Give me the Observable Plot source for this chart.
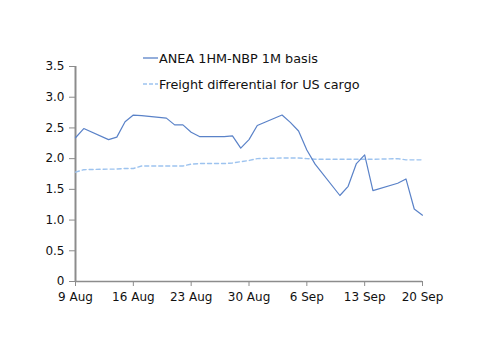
<!DOCTYPE html>
<html>
<head>
<meta charset="utf-8">
<script src="https://cdn.jsdelivr.net/npm/d3@7"></script>
<script src="https://cdn.jsdelivr.net/npm/@observablehq/plot@0.6"></script>
<style>
  html, body { margin: 0; padding: 0; background: #fff; }
  #wrap { position: relative; width: 500px; height: 354px; font-family: "DejaVu Sans", Verdana, sans-serif; }
  #legend { position: absolute; left: 143px; top: 45px; font-size: 12.8px; color: #111; }
  #legend .item { display: flex; align-items: center; height: 26px; }
  #legend svg { margin-right: 1px; }
</style>
</head>
<body>
<div id="wrap"><div id="legend"></div></div>
<script>
const dates = ["2012-08-09","2012-08-10","2012-08-13","2012-08-14","2012-08-15","2012-08-16","2012-08-17",
  "2012-08-20","2012-08-21","2012-08-22","2012-08-23","2012-08-24","2012-08-27","2012-08-28","2012-08-29",
  "2012-08-30","2012-08-31","2012-09-03","2012-09-04","2012-09-05","2012-09-06","2012-09-07","2012-09-10",
  "2012-09-11","2012-09-12","2012-09-13","2012-09-14","2012-09-17","2012-09-18","2012-09-19","2012-09-20"];
const basis = [2.34,2.49,2.31,2.35,2.60,2.71,2.70,
  2.66,2.55,2.55,2.43,2.36,2.36,2.37,2.17,
  2.31,2.54,2.71,2.59,2.45,2.14,1.91,1.40,
  1.55,1.92,2.06,1.48,1.60,1.67,1.18,1.08];
const freight = [1.78,1.82,1.83,1.83,1.84,1.84,1.88,
  1.88,1.88,1.88,1.91,1.92,1.92,1.93,1.95,
  1.97,2.00,2.01,2.01,2.01,2.00,1.99,1.99,
  1.99,1.99,1.99,1.99,2.00,1.98,1.98,1.98];
const seriesNames = ["ANEA 1HM-NBP 1M basis", "Freight differential for US cargo"];
const xTicks = ["2012-08-09","2012-08-16","2012-08-23","2012-08-30","2012-09-06","2012-09-13","2012-09-20"];
const yTicks = [0,0.5,1,1.5,2,2.5,3,3.5];

const colors = ["#5a82c8", "#9dc3ef"];
const parse = d3.utcParse("%Y-%m-%d");
const rows = dates.map((d, i) => ({date: parse(d), basis: basis[i], freight: freight[i]}));
const fmtDate = d3.utcFormat("%-d %b");
const axisColor = "#8c8c8c";

const chart = Plot.plot({
  width: 500,
  height: 354,
  marginLeft: 75,
  marginRight: 78,
  marginTop: 66,
  marginBottom: 73,
  style: {fontFamily: "DejaVu Sans, Verdana, sans-serif", fontSize: "12px", color: "#111", background: "#fff"},
  x: {type: "utc", domain: [parse(dates[0]), parse(dates[dates.length - 1])]},
  y: {domain: [0, 3.5]},
  marks: [
    Plot.axisX({ticks: xTicks.map(parse), tickFormat: fmtDate, tickSize: 5, tickPadding: 6, label: null, stroke: axisColor, color: "#111", fontSize: 12}),
    Plot.axisY({ticks: yTicks, tickFormat: d => d === 0 ? "0" : d3.format(".1f")(d), tickSize: 6, tickPadding: 5, label: null, stroke: axisColor, color: "#111", fontSize: 12}),
    Plot.ruleX([parse(dates[0])], {stroke: axisColor, strokeWidth: 2}),
    Plot.ruleY([0], {stroke: axisColor, strokeWidth: 1.5}),
    Plot.line(rows, {x: "date", y: "freight", stroke: colors[1], strokeWidth: 1.4, strokeDasharray: "4,3"}),
    Plot.line(rows, {x: "date", y: "basis", stroke: colors[0], strokeWidth: 1.2})
  ]
});
const wrap = document.getElementById("wrap");
wrap.insertBefore(chart, wrap.firstChild);

const legend = document.getElementById("legend");
seriesNames.forEach((name, i) => {
  const item = document.createElement("div");
  item.className = "item";
  item.innerHTML = `<svg width="15" height="4"><line x1="0" y1="2" x2="15" y2="2" stroke="${colors[i]}" stroke-width="1.3" ${i === 1 ? 'stroke-dasharray="4,2"' : ''}/></svg><span></span>`;
  item.querySelector("span").textContent = name;
  legend.appendChild(item);
});
</script>
</body>
</html>
